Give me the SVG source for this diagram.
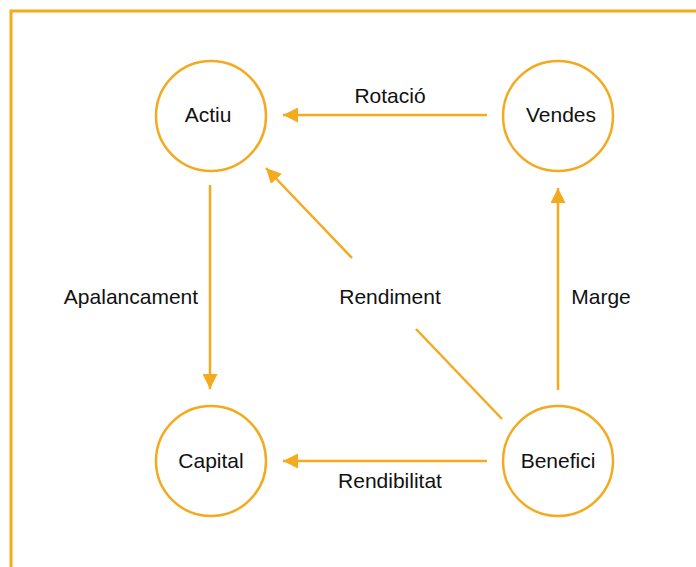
<svg xmlns="http://www.w3.org/2000/svg" width="696" height="567" viewBox="0 0 696 567">
<style>
.node{fill:#fff;stroke:#F4AA1E;stroke-width:2.5}
.lbl{font-family:"Liberation Sans",Arial,sans-serif;font-size:21px;fill:#111;text-anchor:middle}
.edge{stroke:#F4AA1E;stroke-width:2.5;fill:none}
</style>
<defs>
<marker id="ah" viewBox="0 0 10 10" refX="10" refY="5" markerWidth="15" markerHeight="15" markerUnits="userSpaceOnUse" orient="auto">
<path d="M0,0 L10,5 L0,10 Z" fill="#F4AA1E"/>
</marker>
</defs>
<rect x="11" y="11" width="700" height="600" fill="#fff" stroke="#F4AA1E" stroke-width="3"/>
<g id="connectors">
<line class="edge" x1="487" y1="115" x2="283" y2="115" marker-end="url(#ah)"/>
<line class="edge" x1="210" y1="185" x2="210" y2="389" marker-end="url(#ah)"/>
<line class="edge" x1="352" y1="258" x2="266" y2="168" marker-end="url(#ah)"/>
<line class="edge" x1="416" y1="329" x2="502" y2="419"/>
<line class="edge" x1="558" y1="390" x2="558" y2="188" marker-end="url(#ah)"/>
<line class="edge" x1="487" y1="461" x2="283" y2="461" marker-end="url(#ah)"/>
<text class="lbl" x="390" y="103">Rotació</text>
<text class="lbl" x="131" y="304">Apalancament</text>
<text class="lbl" x="390" y="304">Rendiment</text>
<text class="lbl" x="601" y="304">Marge</text>
<text class="lbl" x="390" y="488">Rendibilitat</text>
</g>
<g id="actiu"><circle class="node" cx="211" cy="116" r="55"/><text class="lbl" x="208" y="122">Actiu</text></g>
<g id="vendes"><circle class="node" cx="558" cy="116" r="55"/><text class="lbl" x="561" y="122">Vendes</text></g>
<g id="capital"><circle class="node" cx="211" cy="461" r="55"/><text class="lbl" x="211" y="468">Capital</text></g>
<g id="benefici"><circle class="node" cx="558" cy="461" r="55"/><text class="lbl" x="558" y="468">Benefici</text></g>
</svg>
